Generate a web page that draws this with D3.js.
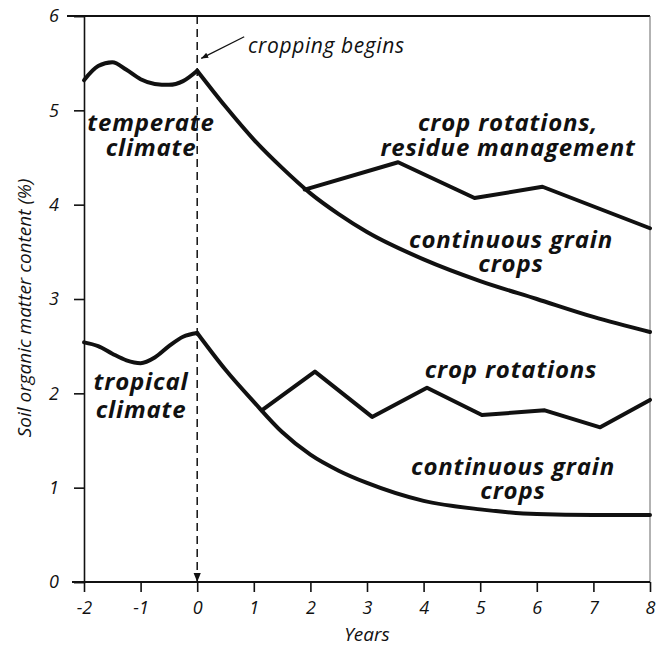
<!DOCTYPE html>
<html>
<head>
<meta charset="utf-8">
<script src="https://cdn.jsdelivr.net/npm/d3@7"></script>
<style>
  html, body { margin: 0; padding: 0; background: #fff; }
  svg { display: block; }
  text { font-family: "Open Sans", "Noto Sans", sans-serif; fill: #111; }
</style>
</head>
<body>
<div id="chart"></div>
<script>
// years before cropping begins
const preYears = [-2, -1.75, -1.5, -1.25, -1, -0.75, -0.5, -0.25, 0];
const temperatePre = [5.32, 5.47, 5.51, 5.43, 5.33, 5.28, 5.27, 5.31, 5.42];
const tropicalPre = [2.54, 2.50, 2.42, 2.35, 2.32, 2.38, 2.50, 2.60, 2.64];

// continuous grain crops
const grainYears = [0, 0.5, 1, 1.5, 2, 2.5, 3, 4, 5, 6, 7, 8];
const temperateGrain = [5.42, 5.04, 4.69, 4.39, 4.12, 3.90, 3.71, 3.42, 3.19, 3.00, 2.81, 2.65];
const tropicalGrain = [2.64, 2.25, 1.91, 1.59, 1.35, 1.18, 1.05, 0.86, 0.77, 0.72, 0.71, 0.71];

// crop rotations
const temperateRotYears = [1.9, 3.55, 4.9, 6.1, 8];
const temperateRot = [4.16, 4.45, 4.07, 4.19, 3.75];
const tropicalRotYears = [1.14, 2.08, 3.09, 4.06, 5.03, 6.14, 7.12, 8];
const tropicalRot = [1.82, 2.23, 1.75, 2.06, 1.77, 1.82, 1.64, 1.93];

const xTicks = [-2, -1, 0, 1, 2, 3, 4, 5, 6, 7, 8];
const yTicks = [0, 1, 2, 3, 4, 5, 6];

const W = 657, H = 647;
const margin = { top: 16, right: 7, bottom: 65, left: 84 };
const width = W - margin.left - margin.right;
const height = H - margin.top - margin.bottom;

const svg = d3.select("#chart").append("svg")
  .attr("width", W)
  .attr("height", H);

const defs = svg.append("defs");
defs.append("marker")
  .attr("id", "arrowDown")
  .attr("viewBox", "0 0 10 10")
  .attr("refX", 10).attr("refY", 5)
  .attr("markerWidth", 10).attr("markerHeight", 9)
  .attr("markerUnits", "userSpaceOnUse")
  .attr("orient", "auto")
  .append("path").attr("d", "M0,1 L10,5 L0,9 Z").attr("fill", "#111");
defs.append("marker")
  .attr("id", "arrowSmall")
  .attr("viewBox", "0 0 10 10")
  .attr("refX", 10).attr("refY", 5)
  .attr("markerWidth", 7).attr("markerHeight", 7)
  .attr("markerUnits", "userSpaceOnUse")
  .attr("orient", "auto")
  .append("path").attr("d", "M0,1 L10,5 L0,9 Z").attr("fill", "#111");

const g = svg.append("g").attr("transform", `translate(${margin.left},${margin.top})`);

const x = d3.scaleLinear().domain([-2, 8]).range([0, width]);
const y = d3.scaleLinear().domain([0, 6]).range([height, 0]);

// frame: top and right
g.append("line")
  .attr("x1", x(-2) - 17).attr("x2", x(8))
  .attr("y1", y(6)).attr("y2", y(6))
  .attr("stroke", "#111").attr("stroke-width", 2.2);
g.append("line")
  .attr("x1", x(8)).attr("x2", x(8))
  .attr("y1", y(6)).attr("y2", y(0))
  .attr("stroke", "#666").attr("stroke-width", 1);

// axes
const yAxis = g.append("g")
  .call(d3.axisLeft(y).tickValues(yTicks).tickFormat(d => String(d)).tickSize(10).tickPadding(15));
yAxis.select(".domain").attr("stroke", "#111").attr("stroke-width", 1.6);
yAxis.selectAll(".tick line").attr("stroke", "#111").attr("stroke-width", 1.6);
yAxis.selectAll(".tick text")
  .style("font-size", "18px").style("font-style", "italic")
  .attr("fill", "#222");

const xAxis = g.append("g")
  .attr("transform", `translate(0,${height})`)
  .call(d3.axisBottom(x).tickValues(xTicks).tickFormat(d => String(d)).tickSize(10).tickPadding(9));
xAxis.select(".domain").attr("stroke", "#111").attr("stroke-width", 2)
  .attr("d", `M${-12},0H${width}`);
xAxis.selectAll(".tick line").attr("stroke", "#111").attr("stroke-width", 1.6);
xAxis.selectAll(".tick text")
  .style("font-size", "18px").style("font-style", "italic")
  .attr("fill", "#222");

g.append("text")
  .attr("x", width / 2).attr("y", height + 59)
  .attr("text-anchor", "middle")
  .style("font-size", "19px").style("font-style", "italic")
  .attr("fill", "#222")
  .text("Years");

g.append("text")
  .attr("transform", `translate(${-53},${292}) rotate(-90)`)
  .attr("text-anchor", "middle")
  .style("font-size", "19px").style("font-style", "italic")
  .attr("fill", "#222")
  .text("Soil organic matter content (%)");

// cropping begins: dashed line at year 0
g.append("line")
  .attr("x1", x(0)).attr("x2", x(0))
  .attr("y1", y(6)).attr("y2", y(0))
  .attr("stroke", "#111").attr("stroke-width", 1.5)
  .attr("stroke-dasharray", "8,5")
  .attr("marker-end", "url(#arrowDown)");

// curves
const smooth = d3.line().x(d => x(d[0])).y(d => y(d[1])).curve(d3.curveMonotoneX);
const straight = d3.line().x(d => x(d[0])).y(d => y(d[1]));
const zip = (xs, ys) => xs.map((v, i) => [v, ys[i]]);

const series = [
  { pts: zip(preYears, temperatePre), gen: smooth },
  { pts: zip(preYears, tropicalPre), gen: smooth },
  { pts: zip(grainYears, temperateGrain), gen: smooth },
  { pts: zip(grainYears, tropicalGrain), gen: smooth },
  { pts: zip(temperateRotYears, temperateRot), gen: straight },
  { pts: zip(tropicalRotYears, tropicalRot), gen: straight }
];

g.selectAll("path.curve")
  .data(series)
  .enter().append("path")
  .attr("class", "curve")
  .attr("d", d => d.gen(d.pts))
  .attr("fill", "none")
  .attr("stroke", "#111")
  .attr("stroke-width", 4)
  .attr("stroke-linejoin", "round")
  .attr("stroke-linecap", "round");

// annotation: cropping begins
g.append("line")
  .attr("x1", x(0) + 47).attr("x2", x(0) + 4)
  .attr("y1", y(5.78)).attr("y2", y(5.55))
  .attr("stroke", "#111").attr("stroke-width", 1.3)
  .attr("marker-end", "url(#arrowSmall)");
g.append("text")
  .attr("x", 248 - margin.left).attr("y", 53 - margin.top)
  .style("font-size", "21px").style("font-style", "italic")
  .style("letter-spacing", "0.6px")
  .attr("fill", "#333")
  .text("cropping begins");

// bold italic labels
function label(lines, cx, baseline, lineGap) {
  const t = g.append("text")
    .attr("text-anchor", "middle")
    .style("font-size", "24px").style("font-style", "italic").style("font-weight", "bold")
    .style("letter-spacing", "0.8px");
  lines.forEach((s, i) => {
    t.append("tspan").attr("x", cx).attr("y", baseline + i * lineGap).text(s);
  });
}

label(["temperate", "climate"], 151 - margin.left, 131 - margin.top, 25);
label(["crop rotations,", "residue management"], 508 - margin.left, 131 - margin.top, 25);
label(["continuous grain", "crops"], 511 - margin.left, 248 - margin.top, 24);
label(["tropical", "climate"], 141 - margin.left, 390 - margin.top, 28);
label(["crop rotations"], 511 - margin.left, 378 - margin.top, 0);
label(["continuous grain", "crops"], 513 - margin.left, 475 - margin.top, 24);
</script>
</body>
</html>
